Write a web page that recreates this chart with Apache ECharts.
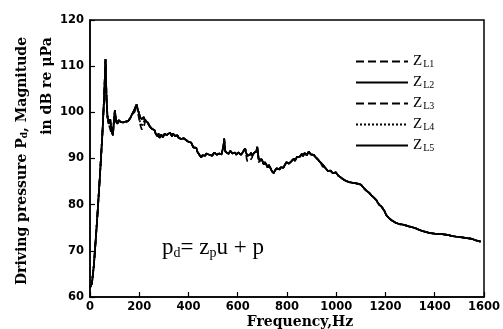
<!DOCTYPE html>
<html>
<head>
<meta charset="utf-8">
<script src="https://cdn.jsdelivr.net/npm/echarts@6/dist/echarts.min.js"></script>
<style>
html, body { margin: 0; padding: 0; background: #fff; }
#chart { width: 503px; height: 329px; }
</style>
</head>
<body>
<div id="chart"></div>
<script>
// frequency (Hz) and driving pressure (dB re uPa)
var freqHz = [0,8,16,28,40,50,58,63,67,71,76,82,88,93,97,101,106,112,116,120,125,130,135,140,145,150,155,160,165,170,175,180,185,189,193,196,200,203,207,210,214,218,222,226,230,234,238,242,246,250,254,258,262,266,270,274,278,282,286,290,295,299,303,308,312,316,320,325,329,333,337,341,345,350,355,360,365,370,375,380,385,390,395,400,405,410,415,420,424,428,432,436,440,444,448,452,456,460,464,468,472,476,480,484,488,492,496,500,505,510,515,520,525,530,534,538,542,545,548,550,554,558,562,566,570,574,578,582,586,590,594,598,602,606,610,614,618,622,626,630,633,636,639,642,646,650,654,658,662,666,669,672,676,679,682,684,687,690,694,698,702,706,710,714,718,722,726,730,734,738,742,746,750,754,758,762,766,770,774,778,782,786,790,794,798,802,807,812,816,820,824,828,832,836,840,844,848,852,856,860,864,868,872,876,880,884,888,892,896,900,904,908,912,916,920,925,930,935,940,945,950,955,960,966,971,976,981,986,992,998,1003,1008,1013,1018,1023,1028,1033,1038,1042,1046,1051,1056,1061,1066,1071,1076,1081,1086,1091,1096,1101,1107,1112,1118,1123,1128,1133,1138,1143,1148,1153,1158,1163,1168,1174,1180,1185,1190,1195,1200,1205,1210,1216,1222,1228,1235,1241,1248,1255,1262,1269,1276,1282,1289,1295,1302,1309,1316,1322,1329,1335,1342,1349,1356,1363,1370,1377,1384,1390,1397,1403,1410,1417,1424,1430,1437,1444,1451,1457,1464,1471,1478,1484,1491,1498,1505,1511,1518,1524,1531,1538,1545,1551,1558,1565,1572,1579,1586,1593,1600];
var zL2 = [62,63,67,76,86,95,104,111.5,103,99,97.5,98.5,96,95,98,100.5,98,97.5,98.3,98.5,97.9,98.1,97.8,98.2,98,98.3,98.1,98.5,98.9,99.5,99.8,100.5,101.2,101.7,100.8,100.5,99.6,99,99.4,98.5,98.9,99,98.3,98,98.5,97.8,97.4,97,97.3,96.5,96.2,96.8,96.1,95.5,95.1,94.8,95.4,94.5,94.9,95.2,94.6,94.8,95.3,95.5,95.1,95,95.4,95.6,95.2,94.8,95.4,95.2,94.9,94.7,95,94.5,94.9,94.2,94.6,94.4,94.1,94,94.3,93.6,93.9,93.5,93.2,92.4,92.7,92,92.3,91.5,91.8,90.8,91.1,90.2,90.7,91,90.5,90.6,91.1,91.3,90.7,90.8,91.2,91,90.6,90.9,91.3,91.2,90.8,90.7,91.1,91.3,90.9,91.8,92.6,94.3,92.1,91.5,91.2,91.6,91,91.2,91.6,91.5,91.1,91,91.4,91.3,90.8,90.9,91.3,91.3,90.9,90.8,91.2,91.5,91.1,92.2,91.4,91,90.6,90.4,90.9,90.8,91.3,90.6,91,91.2,90.8,91,91.6,92.5,91.3,90.2,89.7,89.3,89.9,89.8,89.2,88.7,89.2,89,88.5,88,88.6,88.4,87.8,87.3,87.1,86.8,87.3,87.5,87.9,88,87.6,87.6,88.1,88.2,87.8,88,88.5,88.6,89.2,89.5,88.9,88.8,89.3,89.6,89.1,90,89.5,89.8,90.3,90.6,90.1,90.4,90.8,91,90.5,90.6,91.2,91.3,90.7,90.8,91.5,91.4,90.9,91.2,91.1,90.8,90.6,90.3,90.1,89.8,89.5,89.2,89,88.7,88.4,88,87.6,87.3,87.6,87.4,87,86.8,87.1,87,86.6,86.3,86.1,85.9,85.7,85.5,85.3,85.2,85.1,85,84.9,84.9,84.8,84.8,84.7,84.7,84.6,84.6,84.5,84.5,84.3,84,83.6,83.3,83,82.8,82.6,82.3,82,81.8,81.5,81.3,81,80.5,80,79.8,79.5,79.1,78.7,78.1,77.6,77.3,77,76.8,76.5,76.3,76.1,76,75.8,75.8,75.7,75.6,75.5,75.4,75.3,75.2,75.1,75,74.9,74.8,74.6,74.4,74.3,74.2,74.1,74,73.9,73.9,73.8,73.8,73.7,73.6,73.6,73.6,73.6,73.5,73.5,73.5,73.4,73.3,73.2,73.2,73.1,73,73,72.9,72.9,72.8,72.8,72.7,72.7,72.6,72.6,72.4,72.3,72.2,72.1,72];

// places where the other load curves split away from the main trace
var zL1Hz = [196,200,203,207,210,214,218,222,226,234,636,639,642,646,650,654,658,945];
var zL1Db = [99.5,98.4,97.5,96.8,96.3,96.5,96.8,97.6,98.5,98.3,90,89.4,89.2,89.3,89.5,89.9,90.2,88.2];
var zL3Hz = [82,88,101,180,185,189,545];
var zL3Db = [97.5,95.2,99.5,100,100.6,101,93.5];
var zL4Hz = [203,207,210,214,218,684,687,690];
var zL4Db = [98,97.6,97,97.1,97.3,89.5,89,88.8];

var legendNames = ['L1','L2','L3','L4','L5'];
var lineTypes = ['dashed','solid','dashed','dotted','solid'];

function makeSeries(hz, db) {
  var out = [];
  for (var i = 0; i < freqHz.length; i++) {
    var k = hz ? hz.indexOf(freqHz[i]) : -1;
    out.push([freqHz[i], k >= 0 ? db[k] : zL2[i]]);
  }
  return out;
}

var seriesData = [
  makeSeries(zL1Hz, zL1Db),
  makeSeries(null, null),
  makeSeries(zL3Hz, zL3Db),
  makeSeries(zL4Hz, zL4Db),
  makeSeries(null, null)
];

var tickFont = {color: '#000', fontFamily: 'DejaVu Sans', fontWeight: 'bold', fontSize: 11.5,
  formatter: function (v) { return String(v); }};

var option = {
  animation: false,
  grid: {left: 90, right: 16, top: 20, bottom: 32, show: true, borderColor: '#000', borderWidth: 1.5},
  legend: {
    orient: 'vertical',
    left: 350,
    top: 49,
    itemWidth: 52,
    itemHeight: 14,
    itemGap: 5.5,
    itemStyle: {opacity: 0},
    data: legendNames.map(function (n) { return 'Z' + n; }),
    formatter: function (name) { return '{z|Z}{s|' + name.slice(1) + '}'; },
    textStyle: {
      color: '#000',
      rich: {
        z: {fontFamily: 'Liberation Serif', fontSize: 15, color: '#000'},
        s: {fontFamily: 'Liberation Serif', fontSize: 10, color: '#000', padding: [6, 0, 0, 1]}
      }
    }
  },
  xAxis: {
    type: 'value', min: 0, max: 1600, interval: 200,
    axisLine: {lineStyle: {color: '#000', width: 1.5}},
    axisTick: {inside: true, length: 5, lineStyle: {color: '#000', width: 1.2}},
    axisLabel: Object.assign({margin: 4}, tickFont),
    splitLine: {show: false}
  },
  yAxis: {
    type: 'value', min: 60, max: 120, interval: 10,
    axisLine: {show: true, lineStyle: {color: '#000', width: 1.5}},
    axisTick: {show: true, inside: true, length: 5, lineStyle: {color: '#000', width: 1.2}},
    axisLabel: Object.assign({margin: 6}, tickFont),
    splitLine: {show: false}
  },
  series: seriesData.map(function (d, i) {
    return {
      name: 'Z' + legendNames[i],
      type: 'line',
      data: d,
      symbol: 'none',
      lineStyle: {color: '#000', width: 1.7, type: lineTypes[i]},
      itemStyle: {color: '#000'}
    };
  }),
  graphic: [
    {type: 'text', x: 22, y: 161, rotation: Math.PI / 2,
     style: {text: '{t|Driving pressure P}{s|d}{t|, Magnitude}', textAlign: 'center', textVerticalAlign: 'middle',
       rich: {t: {fontFamily: 'DejaVu Serif', fontWeight: 'bold', fontSize: 14, fill: '#000'},
              s: {fontFamily: 'DejaVu Serif', fontWeight: 'bold', fontSize: 9, fill: '#000', padding: [6, 0, 0, 0]}}}},
    {type: 'text', x: 47, y: 86, rotation: Math.PI / 2,
     style: {text: 'in dB re \u03bcPa', textAlign: 'center', textVerticalAlign: 'middle',
       font: 'bold 14px "DejaVu Serif"', fill: '#000'}},
    {type: 'text', x: 300, y: 322,
     style: {text: 'Frequency,Hz', textAlign: 'center', textVerticalAlign: 'middle',
       font: 'bold 14px "DejaVu Serif"', fill: '#000'}},
    {type: 'text', x: 162, y: 248,
     style: {text: '{t|p}{s|d}{t|= z}{s|p}{t|u + p}', textVerticalAlign: 'middle',
       rich: {t: {fontFamily: 'Liberation Serif', fontSize: 23, fill: '#000'},
              s: {fontFamily: 'Liberation Serif', fontSize: 14, fill: '#000', padding: [10, 0, 0, 0]}}}}
  ]
};

var myChart = echarts.init(document.getElementById('chart'));
myChart.setOption(option);
</script>
</body>
</html>
